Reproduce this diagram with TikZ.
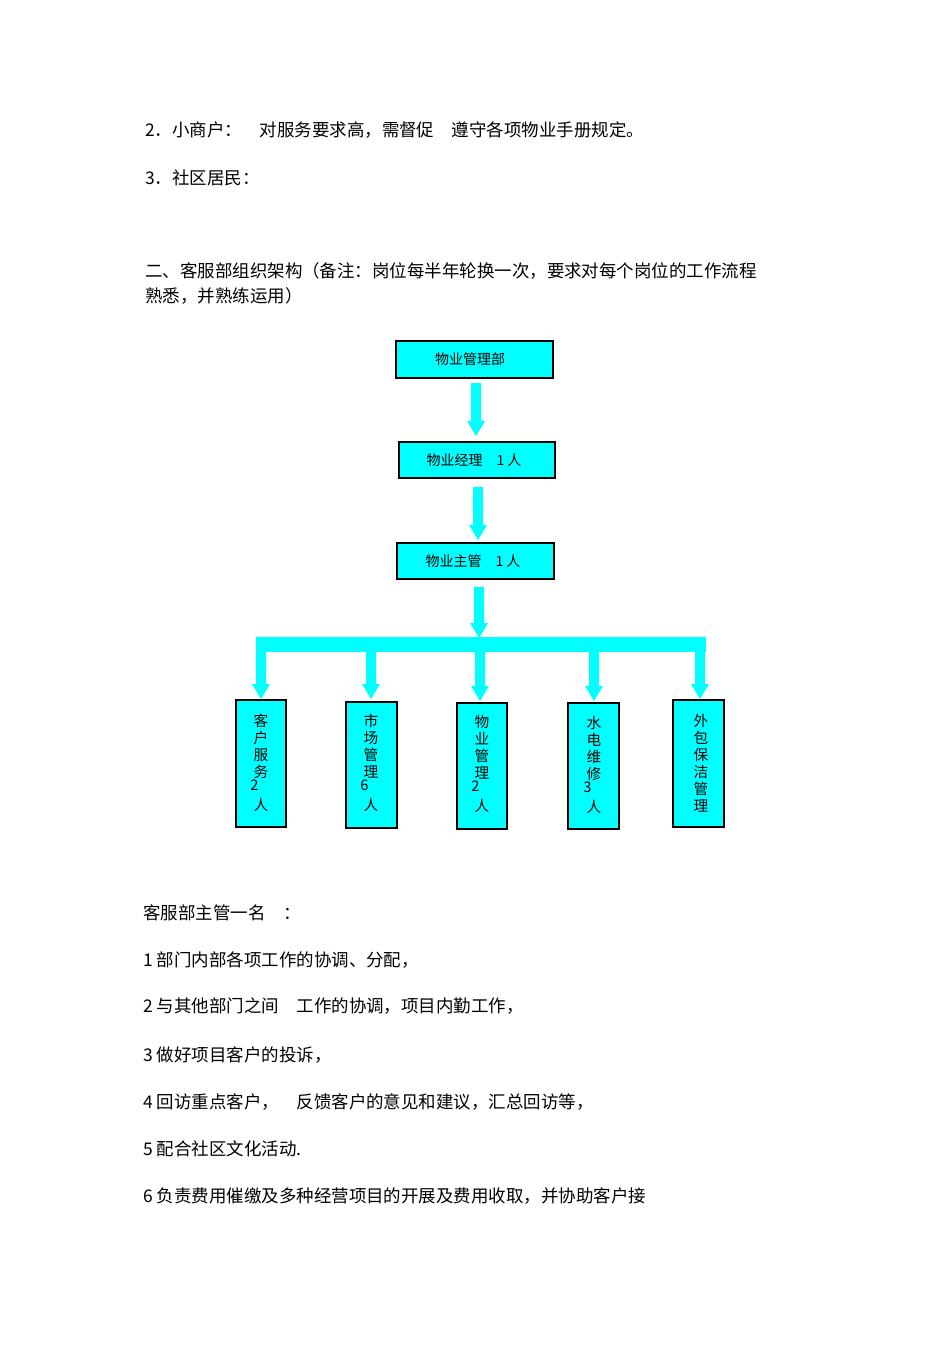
\documentclass[tikz,border=0pt]{standalone}
\usepackage{fontspec}
\setmainfont{Liberation Sans}
\newfontfamily\cjk{Noto Sans CJK SC}
\definecolor{aqua}{RGB}{0,255,255}
\begin{document}
\begin{tikzpicture}[x=0.75pt,y=-0.75pt,
  box/.style={draw=black,line width=0.8pt,fill=aqua},
  lab/.style={inner sep=0pt,font=\cjk\fontsize{10.5}{12}\selectfont},
  txt/.style={anchor=west,inner sep=0pt,font=\cjk\fontsize{13.1}{15}\selectfont},
  vt/.style={font=\cjk\fontsize{11}{12.8}\selectfont,align=center,anchor=north,inner sep=0pt}]
\useasboundingbox (0,0) rectangle (950,1345);
\node[txt] (t1) at (145,130) {2．小商户：\quad 对服务要求高，需督促\quad 遵守各项物业手册规定。};
\node[txt] (t2) at (145,178) {3．社区居民：};
\node[txt] (t3) at (145,271) {二、客服部组织架构（备注：岗位每半年轮换一次，要求对每个岗位的工作流程};
\node[txt] (t4) at (145,296) {熟悉，并熟练运用）};
% top boxes
\draw[box] (396,341) rectangle (553,378);
\node[lab] (a) at (470,359.5) {物业管理部};
\draw[box] (399,442) rectangle (555,478);
\node[lab] (b) at (474,460) {物业经理\quad 1 人};
\draw[box] (397,543) rectangle (554,579);
\node[lab] (c) at (473,561) {物业主管\quad 1 人};
% arrows
\def\fatarrow(#1,#2,#3){\fill[aqua] (#1-5,#2) -- (#1+5,#2) -- (#1+5,#3-15) -- (#1+9,#3-15) -- (#1,#3) -- (#1-9,#3-15) -- (#1-5,#3-15) -- cycle;}
\fatarrow(476,383,436)
\fatarrow(478,487,540)
\fatarrow(479,587,638)
\fill[aqua] (256,637) rectangle (706,652);
\fatarrow(261,650,699)
\fatarrow(371,650,699)
\fatarrow(480,650,701)
\fatarrow(594,650,701)
\fatarrow(700,650,699)
% bottom boxes
\draw[box] (236,700) rectangle (286,827);
\draw[box] (346,702) rectangle (397,828);
\draw[box] (457,703) rectangle (507,829);
\draw[box] (568,703) rectangle (619,829);
\draw[box] (673,700) rectangle (724,827);
\node[vt] (d1) at (261,714) {客\\户\\服\\务\\[-3pt]\llap{2\,}\\[2pt]人};
\node[vt] (d2) at (371,714) {市\\场\\管\\理\\[-3pt]\llap{6\,}\\[2pt]人};
\node[vt] (d3) at (482,715) {物\\业\\管\\理\\[-3pt]\llap{2\,}\\[2pt]人};
\node[vt] (d4) at (594,716) {水\\电\\维\\修\\[-3pt]\llap{3\,}\\[2pt]人};
\node[vt] (d5) at (701,714) {外\\包\\保\\洁\\管\\理};
% bottom text
\node[txt] (s0) at (143,913) {客服部主管一名\quad ：};
\node[txt] (s1) at (143,960) {1 部门内部各项工作的协调、分配，};
\node[txt] (s2) at (143,1006) {2 与其他部门之间\quad 工作的协调，项目内勤工作，};
\node[txt] (s3) at (143,1055) {3 做好项目客户的投诉，};
\node[txt] (s4) at (143,1102) {4 回访重点客户，\quad 反馈客户的意见和建议，汇总回访等，};
\node[txt] (s5) at (143,1149) {5 配合社区文化活动.};
\node[txt] (s6) at (143,1196) {6 负责费用催缴及多种经营项目的开展及费用收取，并协助客户接};
\end{tikzpicture}
\end{document}
